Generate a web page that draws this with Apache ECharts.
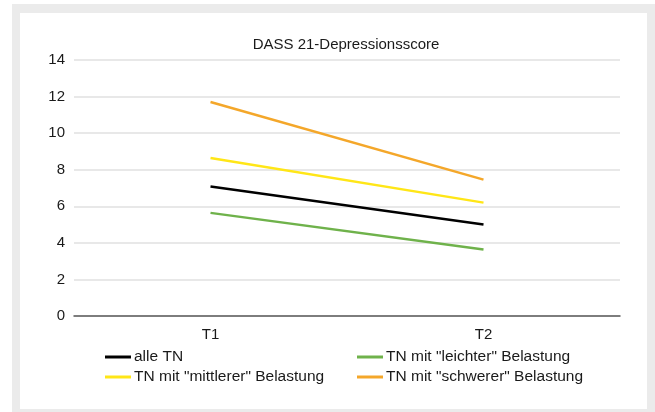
<!DOCTYPE html>
<html>
<head>
<meta charset="utf-8">
<script src="https://cdn.jsdelivr.net/npm/echarts@6/dist/echarts.min.js"></script>
<style>
  html, body { margin: 0; padding: 0; background: #ffffff; }
  #chart { width: 655px; height: 412px; }
</style>
</head>
<body>
<div id="chart"></div>
<script>
// Zeitpunkte und mittlere DASS-21-Depressionswerte je Gruppe
const categories = ['T1', 'T2'];
const alleTN = [7.08, 5.0];
const leichter = [5.64, 3.64];
const mittlerer = [8.64, 6.2];
const schwerer = [11.7, 7.46];
const yTicks = [0, 2, 4, 6, 8, 10, 12, 14];

const FONT = '"Liberation Sans Narrow", "Liberation Sans", "DejaVu Sans Condensed", sans-serif';
const TEXT = '#1a1a1a';

const chart = echarts.init(document.getElementById('chart'), null, { renderer: 'canvas' });

function line(name, data, color) {
  return {
    name: name,
    type: 'line',
    data: data,
    symbol: 'none',
    lineStyle: { color: color, width: 2.5 },
    itemStyle: { color: color },
    emphasis: { disabled: true }
  };
}

const legendText = { fontFamily: FONT, fontSize: 15.5, color: TEXT, padding: [0, 0, 0, -2] };

chart.setOption({
  animation: false,
  backgroundColor: 'transparent',
  textStyle: { fontFamily: FONT },
  graphic: [
    { type: 'rect', z: -10, shape: { x: 12, y: 4, width: 643, height: 408 }, style: { fill: '#ebebeb' } },
    { type: 'rect', z: -9, shape: { x: 20, y: 13, width: 627, height: 396 }, style: { fill: '#ffffff' } }
  ],
  title: {
    text: 'DASS 21-Depressionsscore',
    left: 346, top: 37, textAlign: 'center', padding: 0,
    textStyle: { fontFamily: FONT, fontSize: 15, fontWeight: 'normal', color: TEXT }
  },
  grid: { left: 74, right: 35, top: 60, bottom: 96 },
  xAxis: {
    type: 'category',
    data: categories,
    boundaryGap: true,
    axisLine: { lineStyle: { color: '#595959', width: 1.5 } },
    axisTick: { show: false },
    axisLabel: { fontFamily: FONT, fontSize: 15, color: TEXT, margin: 11 }
  },
  yAxis: {
    type: 'value',
    min: yTicks[0],
    max: yTicks[yTicks.length - 1],
    interval: 2,
    axisLine: { show: false },
    axisTick: { show: false },
    splitLine: { lineStyle: { color: '#e0e0e0', width: 1.5 } },
    axisLabel: { fontFamily: FONT, fontSize: 15, color: TEXT, margin: 9 }
  },
  legend: [
    {
      orient: 'vertical', left: 100, top: 344, itemGap: 4,
      itemWidth: 26, itemHeight: 3, icon: 'rect',
      textStyle: legendText,
      data: ['alle TN', 'TN mit "mittlerer" Belastung']
    },
    {
      orient: 'vertical', left: 352, top: 344, itemGap: 4,
      itemWidth: 26, itemHeight: 3, icon: 'rect',
      textStyle: legendText,
      data: ['TN mit "leichter" Belastung', 'TN mit "schwerer" Belastung']
    }
  ],
  series: [
    line('alle TN', alleTN, '#000000'),
    line('TN mit "leichter" Belastung', leichter, '#6fb24b'),
    line('TN mit "mittlerer" Belastung', mittlerer, '#ffe617'),
    line('TN mit "schwerer" Belastung', schwerer, '#f4a72a')
  ]
});
</script>
</body>
</html>
